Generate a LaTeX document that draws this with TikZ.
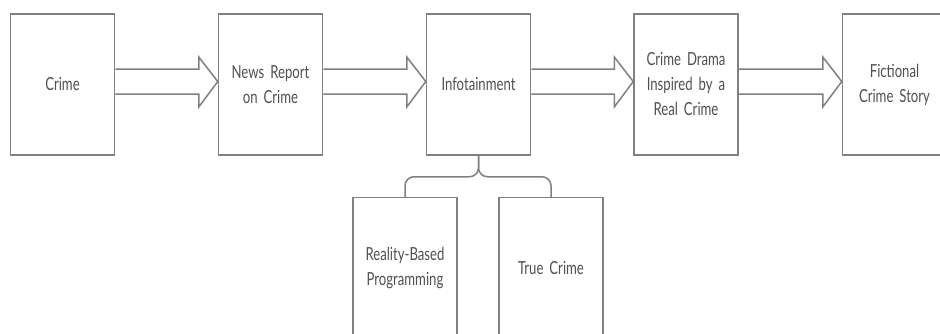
\documentclass[tikz,border=0pt]{standalone}
\usepackage{fontspec}
\setmainfont{Lato}[FakeStretch=0.73,WordSpace=0.5]
\usetikzlibrary{calc}
\definecolor{linec}{HTML}{808080}
\definecolor{textc}{HTML}{505050}
\tikzset{
  box/.style={draw=linec, line width=1.5pt, fill=white, rectangle,
    minimum width=104pt, minimum height=141pt, inner sep=0pt,
    text width=100pt, align=center, text=textc,
    font=\fontsize{18}{25}\selectfont},
  conn/.style={draw=linec, line width=1.5pt},
  blockarr/.style={draw=linec, line width=1.5pt, line join=miter}
}
\newcommand{\blockarrow}[2]{%
  \draw[blockarr] let \p1=(#1.east), \p2=(#2.west) in
    (\x1,\y1+15.5pt) -- (\x2-19pt,\y1+15.5pt) -- (\x2-19pt,\y1+27.5pt)
    -- (\x2,\y1+3pt) -- (\x2-19pt,\y1-22.5pt) -- (\x2-19pt,\y1-9.5pt)
    -- (\x1,\y1-9.5pt);}
\begin{document}
\begin{tikzpicture}[x=1pt,y=-1pt]
\useasboundingbox (0,0) rectangle (940,333);
\begin{scope}
\clip (0,0) rectangle (940,333);
\node[box] (crime) at (62.5,84.5) {Crime};
\node[box] (news) at (270.5,84.5) {News Report\\on Crime};
\node[box] (info) at (478.5,84.5) {Infotainment};
\node[box] (drama) at (686,84.5) {Crime Drama\\Inspired by a\\Real Crime};
\node[box] (fict) at (894.5,84.5) {Fictional\\Crime Story};
\node[box] (real) at (405,268) {Reality-Based\\Programming\\[6pt]};
\node[box] (true) at (551,268) {True Crime};
\blockarrow{crime}{news}
\blockarrow{news}{info}
\blockarrow{info}{drama}
\blockarrow{drama}{fict}
\draw[conn, rounded corners=9pt] (real.north) |- ($(info.south)+(0,21)$) -- (info.south);
\draw[conn, rounded corners=9pt] (true.north) |- ($(info.south)+(0,21)$) -- (info.south);
\end{scope}
\end{tikzpicture}
\end{document}
